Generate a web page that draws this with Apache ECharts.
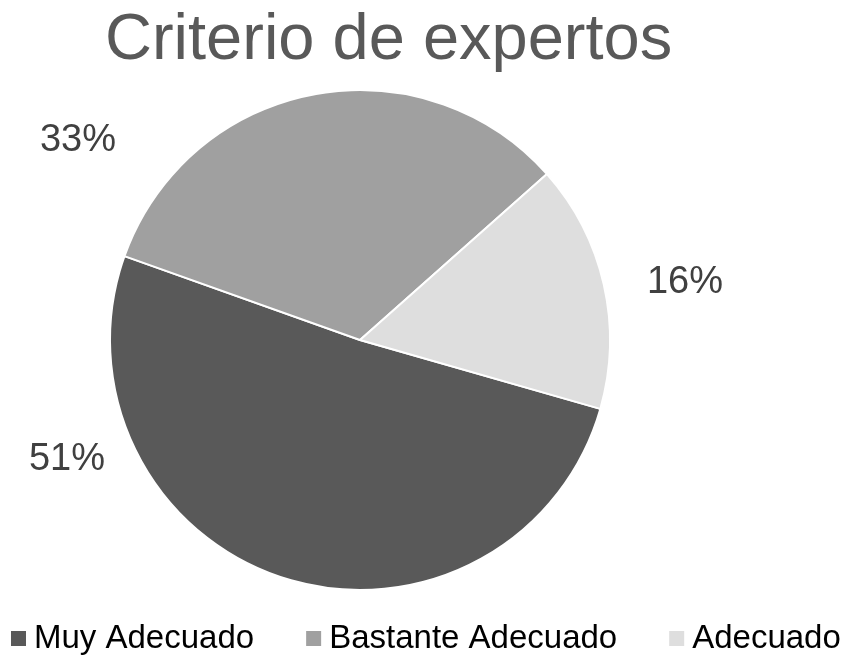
<!DOCTYPE html>
<html>
<head>
<meta charset="utf-8">
<script src="https://cdn.jsdelivr.net/npm/echarts@6/dist/echarts.min.js"></script>
<style>
  html, body { margin: 0; padding: 0; background: #fff; }
  #main { width: 847px; height: 657px; }
</style>
</head>
<body>
<div id="main"></div>
<script>
let categories = ['Muy Adecuado', 'Bastante Adecuado', 'Adecuado'];
let values = [51, 33, 16];
let colors = ['#595959', '#a0a0a0', '#dedede'];

// where the percentage labels sit (Excel places them freely)
let labelSpots = [[67, 460], [78, 141], [685, 283]];

let myChart = echarts.init(document.getElementById('main'));

let option = {
    backgroundColor: '#fff',
    title: {
        text: 'Criterio de expertos',
        left: 100,
        top: 4,
        textStyle: {
            fontFamily: 'Liberation Sans',
            fontSize: 65,
            fontWeight: 'normal',
            color: '#595959'
        }
    },
    legend: {
        data: categories,
        bottom: -3,
        left: 6,
        width: 845,
        padding: 5,
        icon: 'rect',
        itemWidth: 15,
        itemHeight: 15,
        itemGap: 52,
        itemStyle: { borderWidth: 0 },
        textStyle: {
            fontFamily: 'Liberation Sans',
            fontSize: 33,
            color: '#000',
            padding: [0, 0, 0, 3]
        }
    },
    series: [
        {
            name: 'Criterio de expertos',
            type: 'pie',
            center: [360, 340],
            radius: 250,
            startAngle: -16,
            clockwise: true,
            percentPrecision: 0,
            color: colors,
            itemStyle: {
                borderColor: '#fff',
                borderWidth: 2
            },
            label: {
                show: true,
                position: 'outside',
                formatter: '{d}%',
                fontFamily: 'Liberation Sans',
                fontSize: 38,
                color: '#404040'
            },
            labelLine: { show: false },
            labelLayout: function (params) {
                let p = labelSpots[params.dataIndex];
                return { x: p[0], y: p[1], align: 'center', verticalAlign: 'middle' };
            },
            emphasis: { disabled: true },
            data: categories.map(function (name, i) {
                return { name: name, value: values[i] };
            })
        }
    ]
};

myChart.setOption(option);
</script>
</body>
</html>
